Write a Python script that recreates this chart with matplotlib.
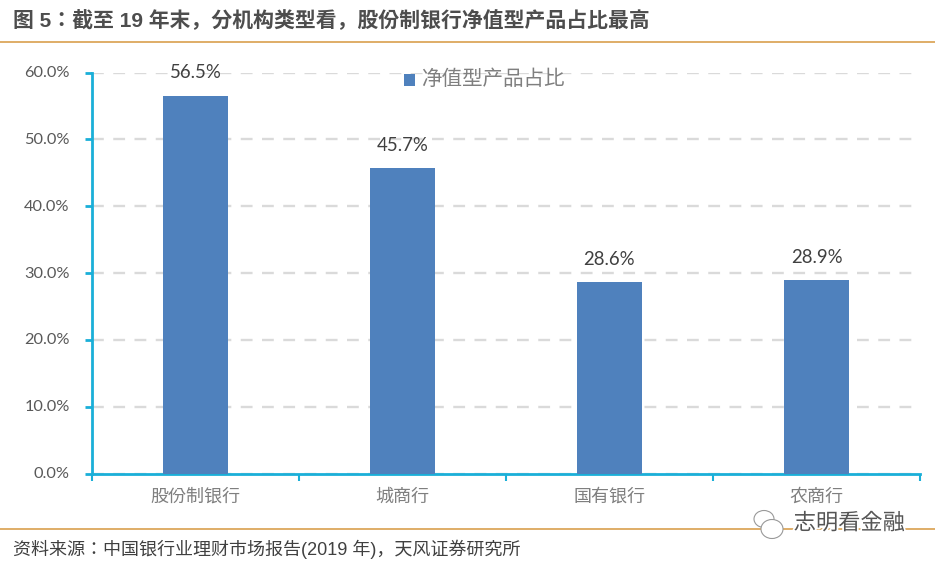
import matplotlib
matplotlib.use("Agg")
import matplotlib.pyplot as plt
import matplotlib.patheffects as pe
from matplotlib.lines import Line2D
from matplotlib.patches import Rectangle, Ellipse
from matplotlib.transforms import ScaledTranslation

categories = ["股份制银行", "城商行", "国有银行", "农商行"]
values = [56.5, 45.7, 28.6, 28.9]
y_ticks = [0, 10, 20, 30, 40, 50, 60]
y_labels = ["0.0%", "10.0%", "20.0%", "30.0%", "40.0%", "50.0%", "60.0%"]
series_name = "净值型产品占比"
title = "图 5：截至 19 年末，分机构类型看，股份制银行净值型产品占比最高"
source = "资料来源：中国银行业理财市场报告(2019 年)，天风证券研究所"
watermark = "志明看金融"

W, H = 935, 564
CJK = "Noto Sans CJK JP"
LATIN = "Lato"
plt.rcParams["font.family"] = [CJK, "DejaVu Sans"]
BLUE = "#4F81BD"
AXIS = "#1AAFD8"
GRID = "#DADADA"
RULE = "#D9A04E"

fig = plt.figure(figsize=(W / 100, H / 100), dpi=100, facecolor="white")
ax = fig.add_axes([92 / W, 1 - 473.7 / H, (920 - 92) / W, (473.7 - 72.5) / H])
ax.set_xlim(0, 4)
ax.set_ylim(0, 60)
ax.set_facecolor("none")

x = [i + 0.5 for i in range(len(categories))]
ax.bar(x, values, width=0.313, color=BLUE, zorder=3)
for xi, v in zip(x, values):
    ax.text(xi, v + 3.45, f"{v:.1f}%", ha="center", va="center", fontsize=13.4,
            color="#404040", family=LATIN, zorder=5)

ax.set_yticks(y_ticks)
ax.set_yticklabels(y_labels, fontsize=11.8, color="#595959", family=LATIN)
ax.set_xticks(range(5))
ax.set_xticklabels([])
ax.tick_params(axis="y", direction="out", length=5, width=2, color=AXIS, pad=11)
ax.tick_params(axis="x", direction="out", length=5, width=1.5, color=AXIS)
up = ScaledTranslation(0, 1 / 100, fig.dpi_scale_trans)
for lab in ax.get_yticklabels():
    lab.set_transform(lab.get_transform() + up)
for xi, c in zip(x, categories):
    ax.text(xi, -3.4, c, ha="center", va="center", fontsize=13, color="#7F7F7F")

ax.grid(axis="y", color=GRID, linewidth=1.7, linestyle=(0, (5, 4)), zorder=0)
ax.set_axisbelow(True)
for s in ("top", "right"):
    ax.spines[s].set_visible(False)
ax.spines["left"].set_color(AXIS)
ax.spines["left"].set_linewidth(2)
ax.spines["bottom"].set_color(AXIS)
ax.spines["bottom"].set_linewidth(2)

# legend
fig.add_artist(Rectangle((404 / W, 1 - 86 / H), 11 / W, 12 / H, transform=fig.transFigure,
                         facecolor=BLUE, edgecolor="none", zorder=6))
fig.text(421 / W, 1 - 79 / H, series_name, fontsize=14.8, color="#7F7F7F", va="center", ha="left", zorder=6)

# header and footer
fig.text(13 / W, 1 - 21 / H, title, fontsize=15, fontweight="bold", color="#4D4D4D", va="center", ha="left",
         family=["Liberation Sans", CJK])
fig.add_artist(Line2D([0, 1], [1 - 41.5 / H] * 2, color=RULE, linewidth=1.2))
fig.add_artist(Line2D([0, 1], [1 - 528.5 / H] * 2, color=RULE, linewidth=1.2))
fig.text(13 / W, 1 - 549 / H, source, fontsize=13, color="#404040", va="center", ha="left",
         family=["Liberation Sans", CJK])

# watermark
for (cx, cy, w, h) in [(764, 519, 20, 17), (772, 529, 22, 19)]:
    fig.add_artist(Ellipse((cx / W, 1 - cy / H), w / W, h / H, transform=fig.transFigure,
                           facecolor="white", edgecolor="#999999", linewidth=0.8, zorder=7))
fig.text(905 / W, 1 - 523 / H, watermark, fontsize=16, color="#555555", va="center", ha="right", zorder=8,
         path_effects=[pe.withStroke(linewidth=2.5, foreground="white")])

fig.savefig("out.png", dpi=100, facecolor="white")
